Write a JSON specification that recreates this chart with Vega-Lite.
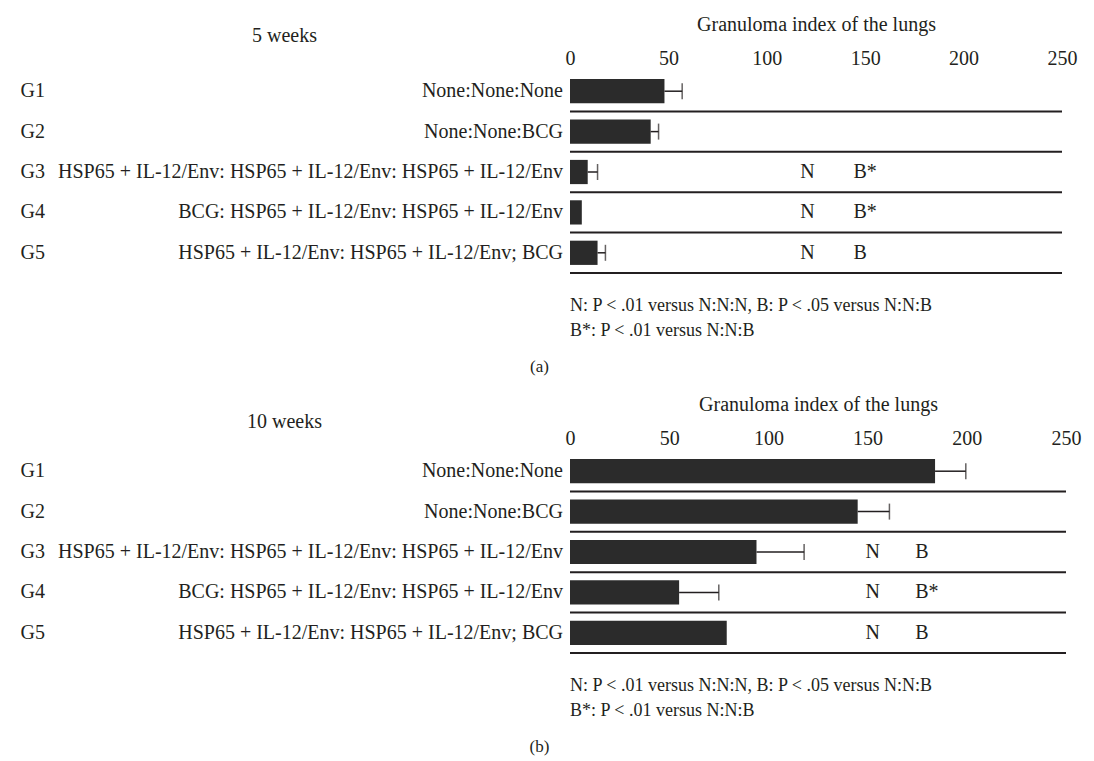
{
  "$schema": "https://vega.github.io/schema/vega-lite/v6.json",
  "background": "white",
  "padding": {"left": 20, "top": 14, "right": 5, "bottom": 5},
  "config": {
    "view": {"stroke": null},
    "font": "Liberation Serif",
    "axis": {"labelFont": "Liberation Serif", "titleFont": "Liberation Serif", "labelColor": "#231f20", "titleColor": "#231f20", "grid": false, "ticks": false, "domain": false}
  },
  "datasets": {
    "a": [
      {"group": "G1", "treat": "None:None:None", "value": 48, "hi": 57},
      {"group": "G2", "treat": "None:None:BCG", "value": 41, "hi": 45},
      {"group": "G3", "treat": "HSP65 + IL-12/Env: HSP65 + IL-12/Env: HSP65 + IL-12/Env", "value": 9, "hi": 14},
      {"group": "G4", "treat": "BCG: HSP65 + IL-12/Env: HSP65 + IL-12/Env", "value": 6, "hi": null},
      {"group": "G5", "treat": "HSP65 + IL-12/Env: HSP65 + IL-12/Env; BCG", "value": 14, "hi": 18}
    ],
    "b": [
      {"group": "G1", "treat": "None:None:None", "value": 184, "hi": 199.5},
      {"group": "G2", "treat": "None:None:BCG", "value": 145, "hi": 161},
      {"group": "G3", "treat": "HSP65 + IL-12/Env: HSP65 + IL-12/Env: HSP65 + IL-12/Env", "value": 94, "hi": 118},
      {"group": "G4", "treat": "BCG: HSP65 + IL-12/Env: HSP65 + IL-12/Env", "value": 55, "hi": 75},
      {"group": "G5", "treat": "HSP65 + IL-12/Env: HSP65 + IL-12/Env; BCG", "value": 79, "hi": null}
    ],
    "siga": [
      {"group": "G3", "label": "N", "pos": 117},
      {"group": "G3", "label": "B*", "pos": 144},
      {"group": "G4", "label": "N", "pos": 117},
      {"group": "G4", "label": "B*", "pos": 144},
      {"group": "G5", "label": "N", "pos": 117},
      {"group": "G5", "label": "B", "pos": 144}
    ],
    "sigb": [
      {"group": "G3", "label": "N", "pos": 149},
      {"group": "G3", "label": "B", "pos": 174},
      {"group": "G4", "label": "N", "pos": 149},
      {"group": "G4", "label": "B*", "pos": 174},
      {"group": "G5", "label": "N", "pos": 149},
      {"group": "G5", "label": "B", "pos": 174}
    ]
  },
  "concat": [
    {
      "width": 492,
      "height": 202,
      "title": {"text": ["N: P < .01 versus N:N:N, B: P < .05 versus N:N:B", "B*: P < .01 versus N:N:B"], "orient": "bottom", "anchor": "start", "frame": "group", "align": "left", "font": "Liberation Serif", "fontSize": 18, "fontWeight": "normal", "lineHeight": 25, "offset": 23, "color": "#231f20"},
      "data": {"name": "a"},
      "encoding": {
        "y": {"field": "group", "type": "nominal", "scale": {"domain": ["G1", "G2", "G3", "G4", "G5"], "paddingInner": 0, "paddingOuter": 0},
          "axis": {"labelAlign": "left", "labelPadding": 550, "labelFontSize": 20, "title": "5 weeks", "titleAngle": 0, "titleX": -286, "titleY": -36, "titleAlign": "center", "titleBaseline": "middle", "titleFontSize": 20, "titleFontWeight": "normal"}}
      },
      "layer": [
        {"mark": {"type": "rule", "color": "#231f20", "strokeWidth": 2},
         "encoding": {"y": {"field": "group", "type": "nominal", "bandPosition": 1}}},
        {"mark": {"type": "bar", "color": "#2b2b2b", "height": {"band": 0.6}},
         "encoding": {"x": {"field": "value", "type": "quantitative", "scale": {"domain": [0, 250], "nice": false},
           "axis": {"orient": "top", "values": [0, 50, 100, 150, 200, 250], "labelFontSize": 20, "labelPadding": 3, "labelFlush": false, "labelOverlap": false, "title": "Granuloma index of the lungs", "titleFontSize": 20, "titleFontWeight": "normal", "titlePadding": 14}}}},
        {"transform": [{"filter": "datum.hi != null"}],
         "mark": {"type": "rule", "color": "#231f20", "strokeWidth": 1.5},
         "encoding": {"x": {"field": "value", "type": "quantitative"}, "x2": {"field": "hi"}}},
        {"transform": [{"filter": "datum.hi != null"}],
         "mark": {"type": "tick", "color": "#231f20", "thickness": 1.5, "size": 16, "orient": "vertical"},
         "encoding": {"x": {"field": "hi", "type": "quantitative"}}},
        {"mark": {"type": "text", "align": "right", "baseline": "middle", "dx": -7, "fontSize": 20, "font": "Liberation Serif", "color": "#231f20"},
         "encoding": {"x": {"datum": 0, "type": "quantitative"}, "text": {"field": "treat"}}},
        {"data": {"name": "siga"},
         "mark": {"type": "text", "align": "left", "baseline": "middle", "fontSize": 20, "font": "Liberation Serif", "color": "#231f20"},
         "encoding": {"x": {"field": "pos", "type": "quantitative"}, "text": {"field": "label"}}}
      ]
    },
    {
      "width": 1,
      "height": 44,
      "data": {"values": [{"t": "(a)"}]},
      "mark": {"type": "text", "fontSize": 17, "font": "Liberation Serif", "color": "#231f20", "dx": -31},
      "encoding": {"text": {"field": "t"}}
    },
    {
      "width": 496,
      "height": 202,
      "title": {"text": ["N: P < .01 versus N:N:N, B: P < .05 versus N:N:B", "B*: P < .01 versus N:N:B"], "orient": "bottom", "anchor": "start", "frame": "group", "align": "left", "font": "Liberation Serif", "fontSize": 18, "fontWeight": "normal", "lineHeight": 25, "offset": 23, "color": "#231f20"},
      "data": {"name": "b"},
      "encoding": {
        "y": {"field": "group", "type": "nominal", "scale": {"domain": ["G1", "G2", "G3", "G4", "G5"], "paddingInner": 0, "paddingOuter": 0},
          "axis": {"labelAlign": "left", "labelPadding": 550, "labelFontSize": 20, "title": "10 weeks", "titleAngle": 0, "titleX": -286, "titleY": -30, "titleAlign": "center", "titleBaseline": "middle", "titleFontSize": 20, "titleFontWeight": "normal"}}
      },
      "layer": [
        {"mark": {"type": "rule", "color": "#231f20", "strokeWidth": 2},
         "encoding": {"y": {"field": "group", "type": "nominal", "bandPosition": 1}}},
        {"mark": {"type": "bar", "color": "#2b2b2b", "height": {"band": 0.6}},
         "encoding": {"x": {"field": "value", "type": "quantitative", "scale": {"domain": [0, 250], "nice": false},
           "axis": {"orient": "top", "values": [0, 50, 100, 150, 200, 250], "labelFontSize": 20, "labelPadding": 3, "labelFlush": false, "labelOverlap": false, "title": "Granuloma index of the lungs", "titleFontSize": 20, "titleFontWeight": "normal", "titlePadding": 14}}}},
        {"transform": [{"filter": "datum.hi != null"}],
         "mark": {"type": "rule", "color": "#231f20", "strokeWidth": 1.5},
         "encoding": {"x": {"field": "value", "type": "quantitative"}, "x2": {"field": "hi"}}},
        {"transform": [{"filter": "datum.hi != null"}],
         "mark": {"type": "tick", "color": "#231f20", "thickness": 1.5, "size": 16, "orient": "vertical"},
         "encoding": {"x": {"field": "hi", "type": "quantitative"}}},
        {"mark": {"type": "text", "align": "right", "baseline": "middle", "dx": -7, "fontSize": 20, "font": "Liberation Serif", "color": "#231f20"},
         "encoding": {"x": {"datum": 0, "type": "quantitative"}, "text": {"field": "treat"}}},
        {"data": {"name": "sigb"},
         "mark": {"type": "text", "align": "left", "baseline": "middle", "fontSize": 20, "font": "Liberation Serif", "color": "#231f20"},
         "encoding": {"x": {"field": "pos", "type": "quantitative"}, "text": {"field": "label"}}}
      ]
    },
    {
      "width": 1,
      "height": 44,
      "data": {"values": [{"t": "(b)"}]},
      "mark": {"type": "text", "fontSize": 17, "font": "Liberation Serif", "color": "#231f20", "dx": -31},
      "encoding": {"text": {"field": "t"}}
    }
  ],
  "columns": 1,
  "spacing": 5
}
